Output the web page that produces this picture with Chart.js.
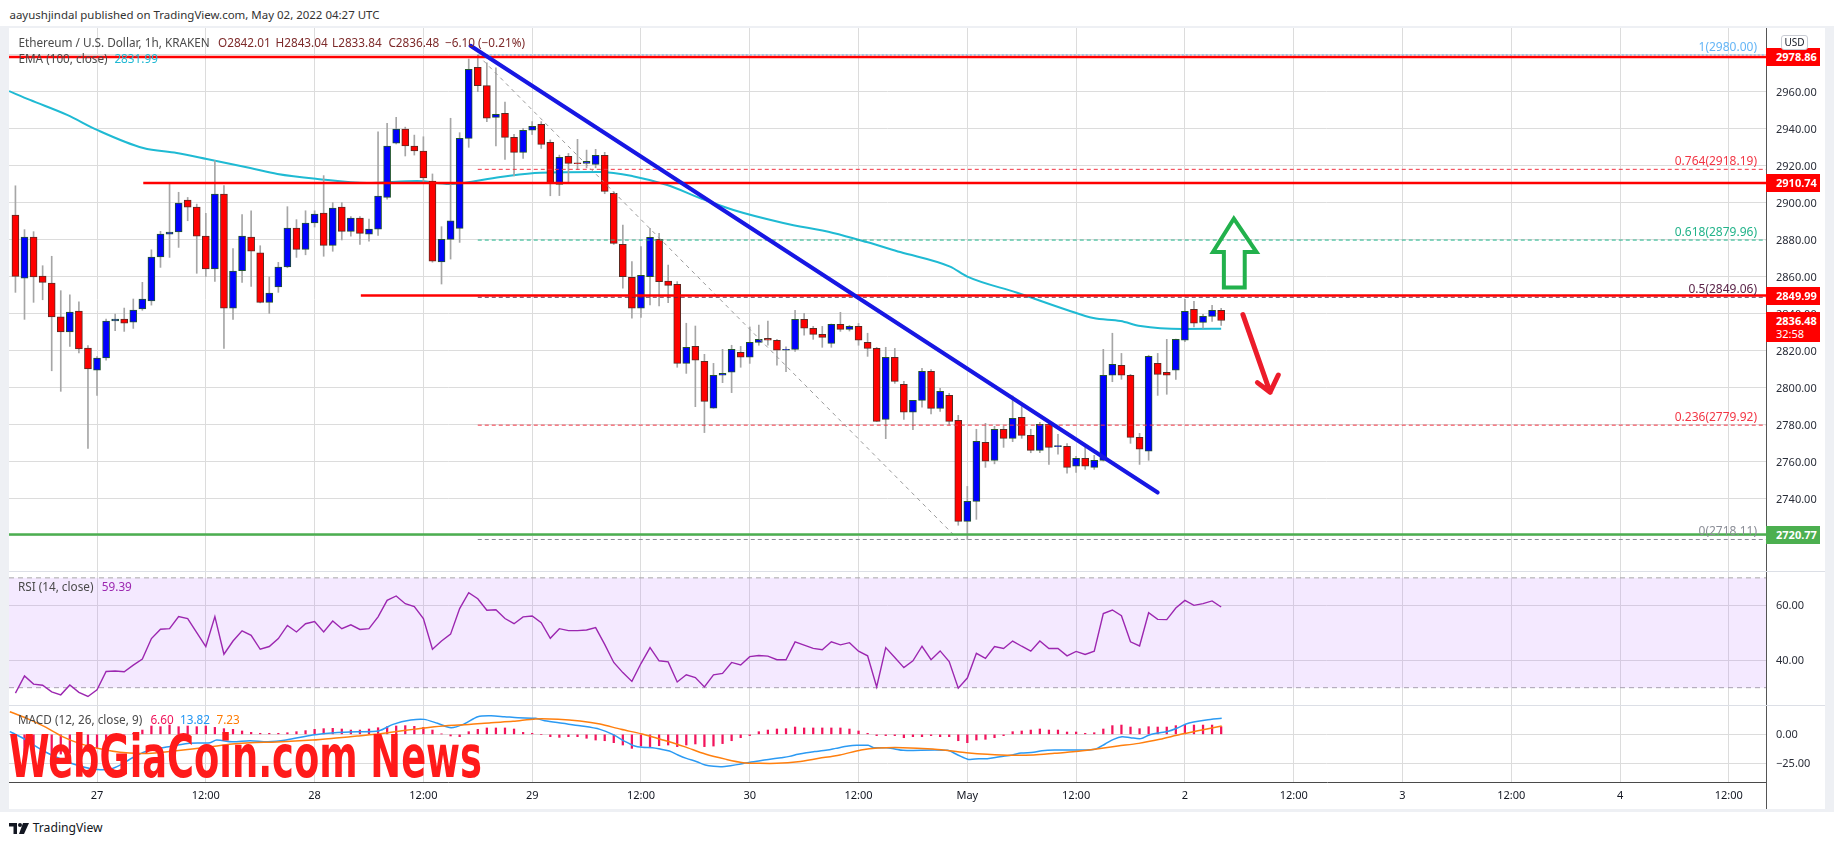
<!DOCTYPE html>
<html><head><meta charset="utf-8"><title>ETHUSD 1h</title>
<script src="https://cdn.jsdelivr.net/npm/chart.js@4.4.1/dist/chart.umd.min.js"></script>
<style>
html,body{margin:0;padding:0;background:#fff;}
body{width:1834px;height:845px;position:relative;overflow:hidden;font-family:"Noto Sans","Open Sans",sans-serif;color:#131722;}
.abs{position:absolute;white-space:nowrap;}
canvas{position:absolute;left:0;}
.box{position:absolute;left:1766px;width:54px;height:18px;color:#fff;font-weight:bold;font-size:11px;line-height:18px;padding-left:10px;box-sizing:border-box;}
.fib{position:absolute;font-size:12px;line-height:14px;text-align:right;white-space:nowrap;}
.leg{position:absolute;white-space:nowrap;font-size:12px;line-height:15px;}
.ytk{position:absolute;left:1776px;font-size:11px;line-height:14px;color:#2a2e39;white-space:nowrap;}
</style></head>
<body>
<div class="abs" style="left:0;top:26px;width:1834px;height:786px;background:#eef0f4;"></div>
<div class="abs" style="left:9px;top:28px;width:1816px;height:781px;background:#fff;"></div>
<div class="abs" id="hdr" style="left:9.5px;top:7px;font-size:12px;line-height:16px;color:#333;">aayushjindal published on TradingView.com, May 02, 2022 04:27 UTC</div>
<canvas id="cMain" width="1834" height="543" style="top:28px;width:1834px;height:543px"></canvas>
<canvas id="cRsi" width="1834" height="134" style="top:571px;width:1834px;height:134px"></canvas>
<canvas id="cMacd" width="1834" height="104" style="top:705px;width:1834px;height:104px"></canvas>
<div class="abs" style="left:9px;top:571px;width:1816px;height:1px;background:#dcdfe6;"></div>
<div class="abs" style="left:9px;top:705px;width:1816px;height:1px;background:#dcdfe6;"></div>
<div class="abs" style="left:1766px;top:782px;width:1px;height:27px;background:#555;"></div>
<div id="ticksLayer"></div>
<div id="overlay"></div>
<div class="abs" style="left:1781px;top:35px;width:25px;height:13px;border:1px solid #c9ccd4;border-radius:3px;font-size:10px;line-height:13px;text-align:center;color:#131722;background:#fff;">USD</div>
<div class="leg" id="legTitle" style="left:18.4px;top:35px;color:#4a4a4a;">Ethereum / U.S. Dollar, 1h, KRAKEN</div>
<div class="leg lv" style="left:218px;top:35px;color:#7d2a2a;">O2842.01</div>
<div class="leg lv" style="left:275.5px;top:35px;color:#7d2a2a;">H2843.04</div>
<div class="leg lv" style="left:332px;top:35px;color:#7d2a2a;">L2833.84</div>
<div class="leg lv" style="left:388.4px;top:35px;color:#7d2a2a;">C2836.48</div>
<div class="leg lv" style="left:445px;top:35px;color:#7d2a2a;">−6.10 (−0.21%)</div>
<div class="leg lv" style="left:18.4px;top:51px;color:#4a4a4a;">EMA (100, close)</div>
<div class="leg lv" style="left:114.4px;top:51px;color:#1fb8d3;">2831.99</div>
<div class="leg lv" style="left:17.9px;top:579px;color:#4a4a4a;">RSI (14, close)</div>
<div class="leg lv" style="left:101.8px;top:579px;color:#9c27b0;">59.39</div>
<div class="leg lv" style="left:17.9px;top:712px;color:#4a4a4a;">MACD (12, 26, close, 9)</div>
<div class="leg lv" style="left:150.4px;top:712px;color:#f0145a;">6.60</div>
<div class="leg lv" style="left:180px;top:712px;color:#2196f3;">13.82</div>
<div class="leg lv" style="left:216.5px;top:712px;color:#ff7a00;">7.23</div>
<div class="abs" id="wm" style="left:9px;top:727px;font-family:'Liberation Sans Narrow','DejaVu Sans Condensed',sans-serif;font-weight:bold;font-size:59px;line-height:59px;color:#ff1a1a;transform-origin:0 0;">WebGiaCoin.com News</div>
<svg class="abs" style="left:9px;top:823px" width="21" height="11" viewBox="0 0 21 11"><path d="M0 0H8V11H4.5V3.5H0Z" fill="#131722"/><circle cx="11" cy="2" r="2" fill="#131722"/><path d="M14 0H20L15 11H10Z" fill="#131722"/></svg>
<div class="abs" id="tvtxt" style="left:32.7px;top:820px;font-size:13px;line-height:16px;color:#131722;">TradingView</div>
<script>
// ---------------- DATA ----------------
const firstCandleHour = -9; // hours relative to Apr 27 00:00 UTC (first candle Apr 26 15:00)
const opens  = [2893.5,2859.4,2881.6,2860.5,2856.7,2838.4,2830.3,2841.6,2821.6,2809.7,2816.2,2836.2,2837.3,2835.6,2842.7,2847.0,2870.8,2883.2,2884.3,2901.6,2897.8,2882.1,2864.3,2904.8,2843.2,2863.4,2881.6,2873.0,2846.3,2854.6,2865.4,2886.5,2874.9,2889.2,2894.6,2877.1,2897.8,2884.7,2891.9,2883.1,2885.9,2903.0,2932.4,2940.0,2930.8,2928.1,2911.9,2868.1,2880.3,2886.3,2934.9,2973.3,2963.4,2946.3,2948.5,2935.5,2927.4,2939.3,2942.5,2932.8,2910.1,2925.2,2921.4,2921.4,2920.9,2925.8,2905.2,2877.6,2859.8,2843.1,2860.2,2880.4,2857.8,2856.0,2813.3,2822.5,2814.4,2789.1,2806.9,2808.5,2819.3,2816.6,2824.7,2826.9,2825.8,2820.4,2820.9,2837.1,2832.3,2829.0,2824.1,2834.4,2831.7,2833.3,2824.7,2821.4,2783.0,2816.6,2802.0,2786.9,2793.3,2809.0,2789.0,2796.0,2782.5,2727.9,2738.7,2770.6,2760.9,2777.7,2772.8,2784.2,2774.4,2766.3,2780.4,2768.3,2768.5,2757.7,2762.0,2757.1,2760.9,2806.9,2812.3,2806.9,2773.3,2765.8,2813.3,2808.5,2809.6,2825.8,2842.5,2835.5,2838.7,2842.01];
const highs  = [2909.3,2885.6,2884.5,2866.1,2871.2,2852.6,2850.4,2846.6,2822.9,2817.0,2837.3,2840.0,2843.2,2848.1,2857.1,2874.7,2884.7,2910.6,2905.8,2903.0,2899.4,2894.4,2922.9,2909.4,2875.3,2893.7,2895.8,2876.9,2860.0,2867.9,2898.0,2891.0,2895.8,2895.8,2914.8,2900.2,2900.2,2892.6,2892.6,2891.3,2938.5,2943.0,2946.3,2941.0,2936.7,2935.8,2915.7,2887.2,2945.8,2938.0,2977.8,2980.0,2975.8,2973.1,2954.6,2937.1,2940.4,2944.0,2944.0,2934.1,2925.9,2926.8,2934.4,2928.6,2929.0,2927.4,2906.1,2888.1,2868.3,2876.4,2886.3,2883.6,2866.5,2857.5,2835.0,2833.5,2818.2,2813.3,2820.9,2823.1,2822.5,2833.0,2834.0,2836.2,2826.3,2822.3,2842.0,2840.4,2833.3,2833.3,2834.6,2840.9,2833.9,2834.9,2829.6,2822.0,2822.0,2821.4,2803.6,2793.3,2810.6,2810.0,2799.8,2797.1,2785.2,2746.8,2777.7,2780.9,2779.3,2779.3,2795.7,2790.0,2777.7,2781.5,2781.5,2775.0,2770.0,2763.0,2769.6,2763.6,2820.9,2829.6,2818.7,2807.4,2775.5,2817.7,2818.7,2826.3,2826.5,2847.9,2846.8,2839.8,2844.7,2843.04];
const lows   = [2851.7,2837.1,2846.3,2847.7,2809.3,2798.2,2822.5,2819.0,2767.4,2796.0,2815.0,2831.0,2830.6,2832.2,2842.0,2844.8,2865.2,2870.6,2876.0,2890.4,2862.0,2860.3,2857.6,2821.4,2837.1,2857.1,2854.9,2846.0,2840.3,2851.7,2865.0,2870.6,2872.0,2887.0,2871.2,2873.9,2880.0,2882.0,2877.6,2879.3,2882.5,2902.1,2931.9,2925.4,2925.9,2911.2,2868.0,2856.2,2869.7,2878.7,2930.1,2960.2,2944.0,2930.8,2923.6,2914.6,2924.1,2937.0,2929.5,2903.9,2904.0,2910.6,2918.0,2919.0,2919.0,2905.0,2877.6,2853.9,2837.7,2838.2,2844.9,2844.3,2846.1,2811.2,2807.9,2789.9,2775.9,2789.0,2802.9,2797.5,2811.2,2813.3,2823.1,2823.1,2812.3,2808.8,2819.8,2828.5,2826.3,2822.0,2822.0,2830.6,2830.8,2823.1,2817.1,2781.9,2772.6,2802.5,2783.0,2777.5,2789.6,2786.0,2787.4,2780.0,2725.8,2718.11,2729.0,2757.1,2759.0,2767.9,2771.0,2772.8,2765.0,2765.0,2758.7,2764.2,2753.9,2754.4,2756.0,2756.0,2760.5,2803.4,2804.7,2770.1,2758.7,2760.9,2796.0,2796.6,2804.7,2825.0,2833.0,2832.3,2836.0,2833.84];
const closes = [2860.3,2881.6,2860.0,2857.1,2838.4,2830.3,2841.1,2821.1,2810.3,2816.2,2836.2,2837.3,2835.1,2842.1,2848.1,2870.8,2883.2,2884.3,2900.0,2897.8,2882.1,2864.3,2904.8,2843.2,2863.2,2882.1,2873.9,2846.3,2851.3,2865.4,2886.5,2874.9,2889.2,2894.0,2877.1,2897.3,2884.7,2891.9,2883.6,2885.9,2903.8,2930.8,2940.0,2930.8,2928.1,2913.5,2868.6,2880.3,2890.3,2934.9,2972.2,2963.4,2945.8,2947.9,2935.5,2927.4,2939.3,2941.4,2931.7,2910.6,2924.7,2921.4,2921.2,2922.5,2925.8,2906.3,2878.2,2860.2,2843.1,2860.9,2881.4,2857.5,2855.5,2813.3,2822.0,2815.0,2792.8,2806.9,2807.9,2820.9,2816.6,2824.7,2826.3,2825.8,2820.4,2820.9,2837.1,2832.3,2829.0,2827.4,2834.4,2831.7,2833.3,2825.8,2821.4,2782.0,2816.6,2803.6,2786.9,2793.3,2809.0,2789.0,2798.2,2782.0,2727.9,2738.7,2771.2,2760.4,2777.7,2772.8,2783.6,2774.4,2766.3,2780.4,2767.9,2768.3,2757.1,2762.0,2757.7,2760.9,2806.9,2812.8,2806.9,2773.3,2766.9,2817.1,2807.4,2806.9,2826.3,2841.4,2835.0,2838.7,2842.0,2836.48];

const emaHours  = [-9.7,-7.4,-3.3,0,5.1,8.8,12.1,16.9,19.9,24.3,29.8,35.3,38.9,44.5,48.9,55.5,59.1,62.9,66.5,70.2,75.7,81.2,84.9,88.6,94.1,96.0,101.5,107.0,109.9,112.9,115.1,119.8,124];
const emaValues = [2960.5,2955.7,2947.6,2939.5,2929.7,2927.0,2923.8,2918.9,2915.7,2913.0,2910.8,2911.9,2910.3,2914.1,2916.4,2916.8,2914.5,2909.7,2902.7,2896.2,2889.2,2883.8,2878.9,2873.5,2865.6,2860.2,2851.5,2842.2,2837.8,2836.2,2833.5,2831.9,2832.0];

const rsiValues = [28.0,34.3,31.3,30.9,28.5,27.4,31.0,28.3,26.8,29.2,35.9,36.1,35.8,38.2,40.4,47.9,51.3,51.5,55.9,55.2,50.1,45.0,55.9,42.2,47.0,50.7,49.1,44.0,45.0,47.9,52.7,50.3,53.3,54.1,50.3,54.3,51.5,52.9,51.2,51.5,55.8,61.8,63.4,60.6,59.5,55.2,44.0,47.0,49.5,58.8,64.6,62.4,58.2,58.4,55.2,53.3,55.8,56.1,53.7,48.0,51.5,50.8,50.8,51.0,51.9,45.8,39.2,35.5,32.3,38.8,44.6,39.8,39.4,32.1,34.7,33.7,30.3,34.7,35.2,39.2,38.3,41.3,41.7,41.5,40.2,40.2,46.7,45.5,44.3,43.8,46.7,45.6,46.4,43.3,41.6,30.3,44.6,41.0,37.3,39.8,45.1,40.2,43.4,39.5,29.8,33.5,42.5,40.7,45.0,44.3,47.0,45.1,43.3,47.0,44.3,44.3,41.6,43.2,42.1,43.3,57.0,58.3,56.2,46.7,45.2,57.3,54.9,54.8,59.0,61.8,60.0,60.6,61.6,59.39];

const histValues = [-17,-18,-19,-19,-18,-17,-16,-15,-14,-12,-8,-4,-1,0.9,3.7,7.2,6.6,8.0,6.6,7.2,6.6,7.2,6.0,4.9,4.3,2.9,1.7,0.9,0.9,0.9,1.4,2.3,3.2,4.3,4.9,5.2,4.6,3.7,3.7,4.6,5.7,6.6,7.2,7.5,6.9,6.0,3.7,0.3,-1.4,-2.0,2.3,4.3,5.5,5.5,5.5,4.6,1.7,0.9,0,-2.0,-2.6,-2.0,-2.0,-3.4,-4.9,-5.5,-7.2,-9.2,-12.1,-10.1,-10.6,-9.8,-9.2,-10.6,-9.2,-8.3,-10.6,-10.1,-8.0,-5.5,-2.9,-1.1,2.3,3.7,4.6,4.9,6.3,5.5,5.5,5.5,5.5,5.5,4.6,2.9,0.9,-1.1,-1.1,-1.1,-2.9,-2.0,-2.0,-1.1,-2.0,-2.0,-5.5,-7.2,-4.9,-4.3,-2.9,-1.1,2.3,2.9,3.7,4.6,3.7,3.7,2.0,2.0,0.9,1.4,4.6,7.5,8.0,6.3,4.9,6.6,6.3,6.3,7.5,8.0,8.0,8.0,8.0,6.6];

const macdHours  = [-9.62,-9.0,-8.0,-7.0,-5.74,-4.08,-2.43,-0.77,0.33,1.43,2.54,3.97,5.30,6.95,8.05,9.98,12.47,13.18,14.89,16.88,18.86,20.85,23.77,26.25,28.68,31.11,32.65,34.61,36.07,37.56,39.05,40.49,42.0,43.46,44.95,46.44,48.39,49.38,51.35,53.28,55.48,56.88,58.28,59.21,60.13,61.29,62.22,63.14,64.08,65.01,66.17,67.09,68.02,68.96,69.88,70.81,71.74,73.13,74.07,75.46,76.38,77.31,78.24,79.16,80.56,81.49,82.88,83.81,85.06,85.67,87.06,87.99,88.91,93.79,94.95,96.12,97.27,98.20,99.59,100.99,101.92,103.31,104.24,105.63,108.88,110.04,111.20,112.13,113.06,113.99,115.15,116.07,117.24,118.17,119.10,120.12,120.95,122.35,124.06];
const macdValues = [2.3,0,-4,-9,-15,-21,-26,-29.5,-30.5,-30,-26.5,-20,-15,-12,-10.5,-7.8,-7.2,-4.9,-6.4,-5.5,-6.4,-4.9,-0.6,1.4,2.2,3.1,8.6,12.3,12.9,9.5,5.7,8.9,15.2,16.0,15.2,14.3,13.8,11.7,9.5,7.4,4.3,0,-6.3,-9.8,-11.2,-11.5,-12.9,-14.4,-17.8,-20.7,-23.6,-26.4,-27.6,-27.9,-27.0,-25.9,-24.4,-22.7,-21.6,-20.1,-19.0,-17.2,-15.8,-14.9,-13.5,-12.1,-10.1,-9.5,-9.5,-11.5,-11.5,-12.6,-13.8,-13.8,-17.8,-21.6,-21.0,-21.0,-19.3,-17.8,-16.1,-15.5,-14.1,-13.5,-13.5,-12.9,-8.3,-4.3,-2.0,-2.9,-3.7,-0.6,1.4,2.6,5.2,8.9,10.6,12.4,13.82];
const signalHours  = [-9.62,-7.74,-5.78,-3.81,-1.88,0.33,2.54,4.74,6.40,9.0,12.47,14.89,16.88,19.83,23.77,26.70,28.68,30.67,32.65,35.08,36.58,38.50,41.04,43.46,45.89,48.39,50.85,53.28,55.48,57.80,60.13,62.45,64.78,67.09,69.42,71.27,73.13,74.99,77.31,79.64,81.95,84.27,86.13,88.91,92.17,94.02,95.89,98.20,100.99,103.31,105.63,107.95,110.27,112.60,114.92,117.24,119.55,121.88,124.06];
const signalValues = [19.5,13.8,6.6,-2,-8,-12.5,-15.5,-16.5,-16,-14,-10.7,-8.4,-7.2,-6.6,-4.9,-2.9,-1.5,0,2,4.5,6,7.5,8.5,10,11.2,13.3,13.0,11.5,8.9,4.3,0.3,-4.9,-10.6,-17.0,-21.6,-24.4,-25.0,-25.0,-23.6,-20.7,-17.8,-13.5,-11.8,-11.5,-12.6,-14.1,-15.8,-17.2,-18.1,-17.8,-16.4,-14.9,-12.6,-10.1,-7.8,-4.3,0,3.7,7.23];

const X_MIN = -9.71, X_MAX = 184.1;
const timeTickHours  = [0,12,24,36,48,60,72,84,96,108,120,132,144,156,168,180];
const timeTickLabels = ['27','12:00','28','12:00','29','12:00','30','12:00','May','12:00','2','12:00','3','12:00','4','12:00'];
const priceTicks = [2720,2740,2760,2780,2800,2820,2840,2860,2880,2900,2920,2940,2960,2980];
const rsiTicks = [40,60];
const rsiBands = [70,30];
const macdTicks = [-25,0];

const redLevels = [2978.86,2910.74,2849.99];
const redLevelStartHours = [-9.71,5.1,29.1];
const supportLevel = 2720.77;
const fibRatios = ['1','0.764','0.618','0.5','0.236','0'];
const fibPrices = [2980.00,2918.19,2879.96,2849.06,2779.92,2718.11];
const fibStartHour = 42.0;
const fibDiagHours = [42.0,95.0], fibDiagPrices = [2980.0,2718.11];
const trendHours = [41.2,117.0], trendPrices = [2985.0,2743.5];
const upArrowHours  = [125.4,127.9,126.6,126.6,124.3,124.3,123.1];
const upArrowPrices = [2891.5,2873.5,2873.5,2854.3,2854.3,2873.5,2873.5];
const downArrowHours = [126.4,129.4], downArrowPrices = [2839.7,2797.7];
const downHeadHours = [128.0,129.4,130.3], downHeadPrices = [2802.9,2797.7,2807.0];
const lastPrice = 2836.48, countdownText = '32:58';

// ---------------- STYLE ----------------
const FONT = '"Noto Sans","Open Sans",sans-serif';
const GRID = '#dcdcdc';
const fibColors = ['#64b5f6','#f23645','#22b38a','#5a2448','#f23645','#8a8d96'];
const UP = '#0000ff', DOWN = '#ff0000';
const candleHours = opens.map((_, i) => firstCandleHour + i);

function xAxis(showLabels){
  return {
    type:'linear', min:X_MIN, max:X_MAX, offset:false,
    grid:{color:GRID, drawTicks:false, offset:false},
    border:{display:showLabels, color:'#4a4a4a', width:1},
    afterBuildTicks:s=>{ s.ticks = timeTickHours.map(v=>({value:v})); },
    afterFit:s=>{ s.height = showLabels ? 27 : 0; },
    ticks:{display:showLabels, autoSkip:false, maxRotation:0, padding:7, color:'#131722',
      font:{family:FONT, size:11},
      callback:v=>{ const k = timeTickHours.indexOf(v); return k>=0 ? timeTickLabels[k] : ''; }}
  };
}
function yAxis(min, max, ticks){
  return {
    type:'linear', position:'right', min, max,
    grid:{color:GRID, drawTicks:false},
    border:{display:true, color:'#555', width:1},
    afterBuildTicks:s=>{ s.ticks = ticks.map(v=>({value:v})); },
    afterFit:s=>{ s.width = 57; },
    ticks:{display:false}
  };
}
const baseOpts = {
  responsive:false, animation:false, devicePixelRatio:1, events:[],
  layout:{autoPadding:false, padding:{left:9, right:11, top:0, bottom:0}},
  plugins:{legend:{display:false}, tooltip:{enabled:false}}
};
function hLine(y, x0, color, width, dash, order){
  return {type:'line', data:[{x:x0,y},{x:X_MAX,y}], borderColor:color, borderWidth:width,
    borderDash:dash||[], pointRadius:0, fill:false, order};
}

// ---------------- MAIN PANE ----------------
const mainDatasets = [
  {type:'bar', label:'bodies', order:1, grouped:false, barThickness:7, minBarLength:1,
   data:candleHours.map((h,i)=>({x:h, y:[opens[i], closes[i]]})),
   backgroundColor:c=> closes[c.dataIndex] >= opens[c.dataIndex] ? UP : DOWN,
   borderColor:c=> closes[c.dataIndex] >= opens[c.dataIndex] ? '#22552d' : '#5b2a22',
   borderWidth:1, borderSkipped:false},
  {type:'bar', label:'wicks', order:2, grouped:false, barThickness:1,
   data:candleHours.map((h,i)=>({x:h, y:[lows[i], highs[i]]})),
   backgroundColor:'#a6a6a6', borderWidth:0},
  {type:'line', label:'EMA', order:3, data:emaHours.map((h,i)=>({x:h,y:emaValues[i]})),
   borderColor:'#1fbad3', borderWidth:2, pointRadius:0, tension:0.4, cubicInterpolationMode:'monotone', fill:false}
];
fibPrices.forEach((p,k)=>{
  mainDatasets.push(hLine(p, fibStartHour, fibColors[k], 1, k===0?[2,2]:[4,3], 0));
});
redLevels.forEach((p,k)=> mainDatasets.push(hLine(p, redLevelStartHours[k], '#ff0000', 2.5, [], -1)));
mainDatasets.push(hLine(supportLevel, X_MIN, '#4caf50', 2.5, [], -1));
mainDatasets.push({type:'line', order:-1, data:fibDiagHours.map((h,i)=>({x:h,y:fibDiagPrices[i]})),
  borderColor:'#9a9a9a', borderWidth:1, borderDash:[4,4], pointRadius:0, fill:false});
mainDatasets.push({type:'line', order:-2, data:trendHours.map((h,i)=>({x:h,y:trendPrices[i]})),
  borderColor:'#1717e3', borderWidth:4, pointRadius:0, fill:false, borderCapStyle:'round'});

const arrowPlugin = {
  id:'arrows',
  afterDatasetsDraw(chart){
    const ctx = chart.ctx, xs = chart.scales.x, ys = chart.scales.y;
    ctx.save();
    ctx.lineJoin = 'miter';
    ctx.strokeStyle = '#22b14c'; ctx.lineWidth = 4;
    ctx.beginPath();
    upArrowHours.forEach((h,i)=>{
      const X = xs.getPixelForValue(h), Y = ys.getPixelForValue(upArrowPrices[i]);
      if(i===0) ctx.moveTo(X,Y); else ctx.lineTo(X,Y);
    });
    ctx.closePath(); ctx.stroke();
    ctx.strokeStyle = '#ec1c2a'; ctx.lineWidth = 5; ctx.lineCap = 'round'; ctx.lineJoin = 'round';
    ctx.beginPath();
    ctx.moveTo(xs.getPixelForValue(downArrowHours[0]), ys.getPixelForValue(downArrowPrices[0]));
    ctx.lineTo(xs.getPixelForValue(downArrowHours[1]), ys.getPixelForValue(downArrowPrices[1]));
    ctx.moveTo(xs.getPixelForValue(downHeadHours[0]), ys.getPixelForValue(downHeadPrices[0]));
    ctx.lineTo(xs.getPixelForValue(downHeadHours[1]), ys.getPixelForValue(downHeadPrices[1]));
    ctx.lineTo(xs.getPixelForValue(downHeadHours[2]), ys.getPixelForValue(downHeadPrices[2]));
    ctx.stroke();
    ctx.restore();
  }
};

const mainChart = new Chart(document.getElementById('cMain'), {
  type:'bar',
  data:{datasets:mainDatasets},
  options:Object.assign({}, baseOpts, {
    scales:{ x:xAxis(false), y:yAxis(2701.08, 2994.59, priceTicks) }
  }),
  plugins:[arrowPlugin]
});

// ---------------- RSI PANE ----------------
const rsiChart = new Chart(document.getElementById('cRsi'), {
  type:'line',
  data:{datasets:[
    {data:[{x:X_MIN,y:rsiBands[0]},{x:X_MAX,y:rsiBands[0]}], borderColor:'#a8a8a8', borderWidth:1, borderDash:[5,4],
     pointRadius:0, fill:'+1', backgroundColor:'rgba(176,96,255,0.14)', order:0},
    {data:[{x:X_MIN,y:rsiBands[1]},{x:X_MAX,y:rsiBands[1]}], borderColor:'#a8a8a8', borderWidth:1, borderDash:[5,4],
     pointRadius:0, fill:false, order:0},
    {data:candleHours.map((h,i)=>({x:h,y:rsiValues[i]})), borderColor:'#9c27b0', borderWidth:1.4,
     pointRadius:0, tension:0, fill:false, order:-1}
  ]},
  options:Object.assign({}, baseOpts, {
    scales:{ x:xAxis(false), y:yAxis(23.7, 72.5, rsiTicks) }
  })
});

// ---------------- MACD PANE ----------------
const macdChart = new Chart(document.getElementById('cMacd'), {
  type:'bar',
  data:{datasets:[
    {type:'bar', order:2, grouped:false, barThickness:1.6, data:candleHours.map((h,i)=>({x:h,y:histValues[i]})),
     backgroundColor:'#f2145c', borderWidth:0},
    {type:'line', order:1, data:macdHours.map((h,i)=>({x:h,y:macdValues[i]})), borderColor:'#2b9af3', borderWidth:1.5,
     pointRadius:0, tension:0.3, fill:false},
    {type:'line', order:0, data:signalHours.map((h,i)=>({x:h,y:signalValues[i]})), borderColor:'#ff7f0e', borderWidth:1.5,
     pointRadius:0, tension:0.3, fill:false}
  ]},
  options:Object.assign({}, baseOpts, {
    scales:{ x:xAxis(true), y:yAxis(-41.1, 25.3, macdTicks) }
  })
});

// ---------------- axis labels + overlays (positioned through the library's scales) ----------------
(function(){
  const layer = document.getElementById('ticksLayer');
  function addTicks(chart, top0, ticks, fmt){
    const ys = chart.scales.y;
    ticks.forEach(v=>{
      const d = document.createElement('div');
      d.className = 'ytk';
      d.style.top = (top0 + ys.getPixelForValue(v) - 7) + 'px';
      d.textContent = fmt(v);
      layer.appendChild(d);
    });
  }
  addTicks(mainChart, 28, priceTicks, v=>v.toFixed(2));
  addTicks(rsiChart, 571, rsiTicks, v=>v.toFixed(2));
  addTicks(macdChart, 705, macdTicks, v=> v===0 ? '0.00' : (v<0?'−':'')+Math.abs(v).toFixed(2));

  const ov = document.getElementById('overlay');
  const ys = mainChart.scales.y, xs = mainChart.scales.x;
  const top0 = 28;
  const py = p => top0 + ys.getPixelForValue(p);
  const rightX = xs.right - 9;
  fibPrices.forEach((p,k)=>{
    const d = document.createElement('div');
    d.className = 'fib';
    d.style.right = (1834 - rightX) + 'px';
    d.style.top = (py(p) - 15) + 'px';
    d.style.color = fibColors[k];
    d.textContent = fibRatios[k] + '(' + p.toFixed(2) + ')';
    ov.appendChild(d);
  });
  const boxes = redLevels.map(p=>({p, c:'#ff0000'})).concat([{p:supportLevel, c:'#4caf50'}]);
  boxes.forEach(b=>{
    const d = document.createElement('div');
    d.className = 'box';
    d.style.top = (py(b.p) - 9) + 'px';
    d.style.background = b.c;
    d.textContent = b.p.toFixed(2);
    ov.appendChild(d);
  });
  const d = document.createElement('div');
  d.className = 'box';
  d.style.top = (py(lastPrice) - 9) + 'px';
  d.style.height = '30px'; d.style.lineHeight = '13px'; d.style.paddingTop = '2px';
  d.style.background = '#ff0000';
  d.innerHTML = lastPrice.toFixed(2) + '<br><span style="font-weight:normal">' + countdownText + '</span>';
  ov.appendChild(d);
})();

// ---------------- text fitting ----------------
(function(){
  function fitFont(el, target){
    const w = el.getBoundingClientRect().width;
    const fs = parseFloat(getComputedStyle(el).fontSize);
    el.style.fontSize = (fs * target / w) + 'px';
    return fs * target / w;
  }
  fitFont(document.getElementById('hdr'), 370.5);
  const fs = fitFont(document.getElementById('legTitle'), 191.6);
  document.querySelectorAll('.lv').forEach(e=> e.style.fontSize = fs + 'px');
  fitFont(document.getElementById('tvtxt'), 70);
  const wm = document.getElementById('wm');
  const w = wm.getBoundingClientRect().width;
  wm.style.transform = 'scaleX(' + (473 / w) + ')';
})();
</script>
</body></html>
